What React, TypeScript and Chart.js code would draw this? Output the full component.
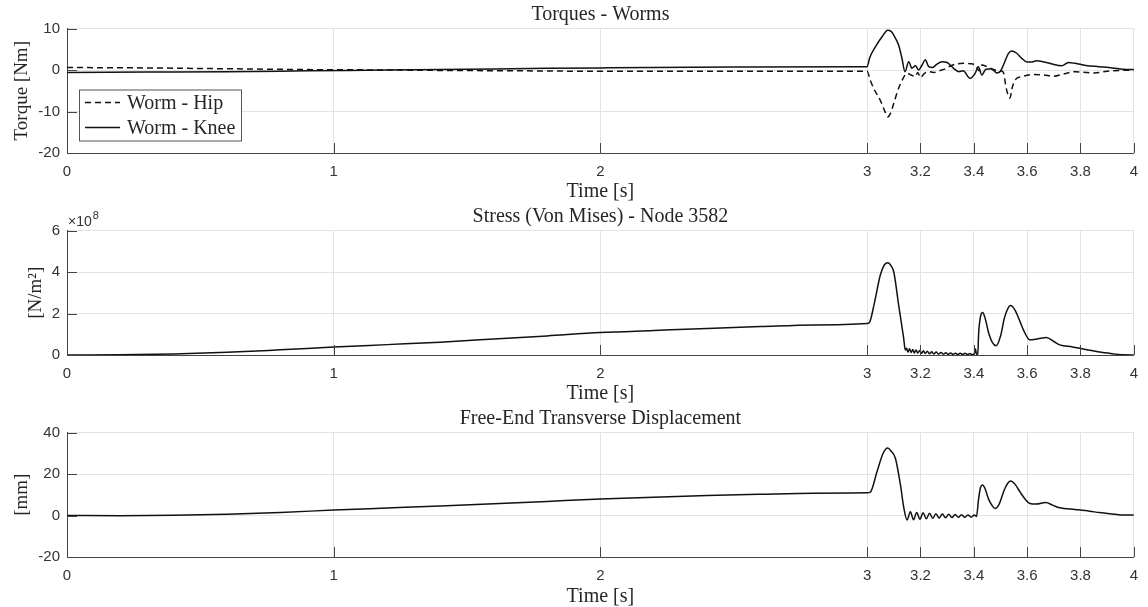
import React, { useEffect, useRef } from "react";
import { Chart, registerables } from "chart.js";

Chart.register(...registerables);

// ---------- data ----------
const xTickValues = [0, 1, 2, 3, 3.2, 3.4, 3.6, 3.8, 4];
const torqueTicks = [-20, -10, 0, 10];
const stressTicks = [0, 2, 4, 6];
const dispTicks = [-20, 0, 20, 40];

const hipTime = [0, 0.3, 0.6, 0.9, 1.2, 1.4, 1.7, 2.0, 2.5, 2.99, 3.0, 3.012, 3.026, 3.05, 3.068, 3.077, 3.088, 3.1, 3.118, 3.135, 3.15, 3.165, 3.18, 3.19, 3.2, 3.215, 3.23, 3.25, 3.27, 3.29, 3.31, 3.33, 3.36, 3.39, 3.41, 3.42, 3.43, 3.45, 3.47, 3.49, 3.51, 3.522, 3.535, 3.545, 3.555, 3.58, 3.62, 3.66, 3.7, 3.74, 3.78, 3.82, 3.85, 3.9, 3.95, 4.0];
const hipTorque = [0.6, 0.5, 0.3, 0.1, 0.0, -0.1, -0.2, -0.3, -0.3, -0.3, -0.3, -2.5, -4.6, -7.4, -10.2, -11.3, -10.4, -8.0, -4.4, -2.0, -0.8, -1.2, -1.6, -0.6, -1.8, -0.8, -0.4, -0.6, -0.2, 0.2, 0.9, 1.4, 1.6, 1.5, 0.9, -0.2, 1.2, 0.8, 0.2, -0.1, -0.5, -4.5, -6.8, -4.0, -2.4, -1.6, -1.1, -1.2, -1.5, -0.9, -0.4, -0.6, -0.7, -0.3, -0.1, 0.0];

const kneeTime = [0, 0.3, 0.6, 0.9, 1.2, 1.5, 1.8, 2.0, 2.5, 2.99, 3.0, 3.01, 3.031, 3.056, 3.077, 3.09, 3.1, 3.118, 3.13, 3.142, 3.156, 3.168, 3.181, 3.193, 3.206, 3.218, 3.231, 3.245, 3.262, 3.28, 3.3, 3.324, 3.343, 3.36, 3.386, 3.405, 3.417, 3.43, 3.445, 3.465, 3.486, 3.5, 3.515, 3.53, 3.542, 3.56, 3.58, 3.6, 3.615, 3.635, 3.66, 3.69, 3.73, 3.755, 3.78, 3.82, 3.87, 3.92, 3.96, 4.0];
const kneeTorque = [-0.6, -0.5, -0.4, -0.2, 0.0, 0.2, 0.4, 0.5, 0.7, 0.8, 0.8, 3.0, 5.6, 8.0, 9.6, 9.3, 8.4, 6.0, 3.0, -0.4, 2.0, 0.4, 1.0, 0.0, 1.2, 2.5, 0.8, 0.6, 1.4, 2.0, 1.8, 0.4, -0.4, -0.2, -2.0, -0.8, 0.8, -1.2, 0.2, 0.3, -0.7, -0.3, 1.8, 4.0, 4.6, 4.1, 2.8, 1.9, 1.9, 2.2, 2.0, 1.5, 1.0, 1.8, 1.6, 1.1, 0.8, 0.5, 0.2, 0.1];

const stressTime = [0, 0.2, 0.4, 0.6, 0.8, 1.0, 1.2, 1.4, 1.6, 1.8, 2.0, 2.2, 2.4, 2.6, 2.8, 3.0, 3.01, 3.026, 3.05, 3.065, 3.078, 3.09, 3.1, 3.118, 3.137, 3.143, 3.148, 3.153, 3.159, 3.165, 3.171, 3.177, 3.183, 3.19, 3.197, 3.204, 3.211, 3.218, 3.226, 3.234, 3.242, 3.25, 3.259, 3.268, 3.277, 3.286, 3.295, 3.304, 3.313, 3.322, 3.331, 3.34, 3.349, 3.358, 3.367, 3.376, 3.385, 3.394, 3.402, 3.406, 3.41, 3.415, 3.418, 3.425, 3.433, 3.442, 3.455, 3.47, 3.484, 3.5, 3.515, 3.53, 3.538, 3.555, 3.573, 3.59, 3.61, 3.641, 3.672, 3.7, 3.722, 3.77, 3.809, 3.86, 3.909, 3.959, 4.0];
// von Mises stress in units of 1e8 N/m^2
const stressE8 = [0, 0.01, 0.05, 0.13, 0.25, 0.38, 0.5, 0.62, 0.77, 0.92, 1.08, 1.18, 1.28, 1.37, 1.45, 1.52, 1.6, 2.43, 3.88, 4.35, 4.45, 4.3, 4.0, 2.43, 0.81, 0.24, 0.32, 0.14, 0.3, 0.12, 0.26, 0.1, 0.24, 0.09, 0.22, 0.08, 0.2, 0.07, 0.18, 0.06, 0.16, 0.05, 0.14, 0.04, 0.12, 0.04, 0.11, 0.03, 0.1, 0.03, 0.09, 0.02, 0.08, 0.02, 0.08, 0.02, 0.07, 0.02, 0.06, 0.3, 0.04, 0.05, 1.0, 1.85, 2.05, 1.8, 1.1, 0.6, 0.45, 0.9, 1.8, 2.3, 2.38, 2.15, 1.62, 1.1, 0.73, 0.78, 0.84, 0.65, 0.49, 0.39, 0.29, 0.17, 0.08, 0.01, 0.0];

const dispTime = [0, 0.2, 0.4, 0.6, 0.8, 1.0, 1.2, 1.4, 1.6, 1.8, 2.0, 2.2, 2.4, 2.6, 2.8, 3.0, 3.012, 3.037, 3.06, 3.077, 3.09, 3.106, 3.125, 3.138, 3.15, 3.162, 3.174, 3.186, 3.198, 3.21, 3.222, 3.234, 3.246, 3.258, 3.27, 3.282, 3.294, 3.306, 3.318, 3.33, 3.342, 3.354, 3.366, 3.378, 3.39, 3.402, 3.41, 3.418, 3.425, 3.433, 3.442, 3.455, 3.47, 3.48, 3.495, 3.515, 3.53, 3.538, 3.555, 3.575, 3.595, 3.61, 3.634, 3.67, 3.695, 3.722, 3.78, 3.834, 3.87, 3.909, 3.95, 4.0];
const dispMm = [0, -0.1, 0.1, 0.6, 1.5, 2.6, 3.6, 4.6, 5.7, 6.8, 7.9, 8.8, 9.6, 10.2, 10.7, 11.0, 11.3, 21.1, 30.0, 32.5, 31.0, 27.6, 14.7, 3.4, -2.2, 1.8, -2.0, 1.5, -1.8, 1.3, -1.6, 1.1, -1.4, 0.9, -1.2, 0.7, -1.1, 0.6, -1.0, 0.5, -0.9, 0.4, -0.9, 0.3, -0.8, 0.3, -0.5, 8.0, 13.5, 14.7, 13.0, 8.0, 4.5, 3.4, 5.5, 12.5, 16.0, 16.6, 15.0, 11.0, 7.5, 5.8, 5.5, 6.3, 5.0, 3.7, 2.9, 2.1, 1.4, 0.8, 0.3, 0.2];

// ---------- styles ----------
const SERIF = '"Liberation Serif", "Times New Roman", serif';
const SANS = '"Liberation Sans", Arial, sans-serif';
const TEXT = "#262626";
const TICK_TEXT = "#333333";
const AXIS = "#444444";
const GRID = "#e3e3e3";
const LINE = "#111111";

function pts(t: number[], v: number[]) {
  const n = Math.min(t.length, v.length);
  const out: { x: number; y: number }[] = [];
  for (let i = 0; i < n; i++) out.push({ x: t[i], y: v[i] });
  return out;
}

const inwardTicks = {
  id: "inwardTicks",
  afterDraw(chart: any) {
    const { ctx, chartArea, scales } = chart;
    const { left, bottom } = chartArea;
    ctx.save();
    ctx.strokeStyle = AXIS;
    ctx.lineWidth = 1;
    ctx.beginPath();
    for (const t of scales.x.ticks) {
      const px = Math.round(scales.x.getPixelForValue(t.value)) + 0.5;
      ctx.moveTo(px, bottom);
      ctx.lineTo(px, bottom - 10);
    }
    for (const t of scales.y.ticks) {
      const py = Math.round(scales.y.getPixelForValue(t.value)) + 0.5;
      ctx.moveTo(left, py);
      ctx.lineTo(left + 10, py);
    }
    ctx.stroke();
    ctx.restore();
  },
};

const boxLegend = {
  id: "boxLegend",
  afterDraw(chart: any) {
    const { ctx, chartArea } = chart;
    const x = chartArea.left + 12;
    const y = chartArea.top + 61;
    const w = 162;
    const h = 51;
    ctx.save();
    ctx.fillStyle = "#ffffff";
    ctx.fillRect(x, y, w, h);
    ctx.strokeStyle = "#555555";
    ctx.lineWidth = 1;
    ctx.strokeRect(x + 0.5, y + 0.5, w, h);
    ctx.font = `20px ${SERIF}`;
    ctx.textBaseline = "middle";
    ctx.fillStyle = TEXT;
    chart.data.datasets.forEach((ds: any, i: number) => {
      const cy = y + 13 + i * 25;
      ctx.beginPath();
      ctx.setLineDash(ds.borderDash || []);
      ctx.strokeStyle = ds.borderColor;
      ctx.lineWidth = ds.borderWidth;
      ctx.moveTo(x + 6, cy);
      ctx.lineTo(x + 41, cy);
      ctx.stroke();
      ctx.setLineDash([]);
      ctx.fillText(ds.label, x + 48, cy + 1);
    });
    ctx.restore();
  },
};

const exponentLabel = {
  id: "exponentLabel",
  afterDraw(chart: any) {
    const { ctx, chartArea } = chart;
    ctx.save();
    ctx.fillStyle = TICK_TEXT;
    ctx.textBaseline = "alphabetic";
    ctx.font = `14px ${SANS}`;
    const x = chartArea.left + 1;
    const y = chartArea.top - 5;
    const base = "\u00d710";
    ctx.fillText(base, x, y);
    const w = ctx.measureText(base).width;
    ctx.font = `11px ${SANS}`;
    ctx.fillText("8", x + w + 1, y - 7);
    ctx.restore();
  },
};

function makeConfig(opts: {
  title: string;
  yTitle: string;
  yTitlePad: number;
  yMin: number;
  yMax: number;
  yTicks: number[];
  xAxisH: number;
  datasets: any[];
  plugins: any[];
}) {
  return {
    type: "line" as const,
    data: { datasets: opts.datasets },
    plugins: [inwardTicks, ...opts.plugins],
    options: {
      responsive: false,
      animation: false as const,
      events: [],
      layout: { padding: { left: 0, right: 10, top: 0, bottom: 0 } },
      plugins: {
        legend: { display: false },
        tooltip: { enabled: false },
        title: {
          display: true,
          fullSize: false,
          text: opts.title,
          color: TEXT,
          font: { family: SERIF, size: 20, weight: "normal" as const, lineHeight: 1.2 },
          padding: { top: 2.5, bottom: 2 },
        },
      },
      scales: {
        x: {
          type: "linear" as const,
          min: 0,
          max: 4,
          afterBuildTicks: (s: any) => {
            s.ticks = xTickValues.map((v) => ({ value: v }));
          },
          afterFit: (s: any) => {
            s.height = opts.xAxisH;
          },
          grid: { color: GRID, drawTicks: false, lineWidth: 1 },
          border: { display: true, color: AXIS, width: 1 },
          ticks: {
            autoSkip: false,
            maxRotation: 0,
            padding: 10,
            color: TICK_TEXT,
            font: { family: SANS, size: 15 },
            callback: (v: any) => String(v),
          },
          title: {
            display: true,
            text: "Time [s]",
            color: TEXT,
            font: { family: SERIF, size: 20, lineHeight: 1 },
            padding: { top: 0, bottom: 0 },
          },
        },
        y: {
          type: "linear" as const,
          min: opts.yMin,
          max: opts.yMax,
          afterBuildTicks: (s: any) => {
            s.ticks = opts.yTicks.map((v) => ({ value: v }));
          },
          afterFit: (s: any) => {
            s.width = 67;
          },
          grid: { color: GRID, drawTicks: false, lineWidth: 1 },
          border: { display: true, color: AXIS, width: 1 },
          ticks: {
            padding: 7,
            color: TICK_TEXT,
            font: { family: SANS, size: 15 },
            callback: (v: any) => String(v),
          },
          title: {
            display: true,
            text: opts.yTitle,
            color: TEXT,
            font: { family: SERIF, size: 19 },
            padding: { top: opts.yTitlePad, bottom: 0 },
          },
        },
      },
    },
  };
}

function lineDs(label: string, t: number[], v: number[], dash?: number[]) {
  return {
    label,
    data: pts(t, v),
    borderColor: LINE,
    borderWidth: 1.5,
    borderDash: dash || [],
    pointRadius: 0,
    cubicInterpolationMode: "monotone" as const,
    fill: false,
  };
}

function Panel({ top, height, config }: { top: number; height: number; config: () => any }) {
  const ref = useRef<HTMLCanvasElement | null>(null);
  useEffect(() => {
    if (!ref.current) return;
    const chart = new Chart(ref.current, config());
    return () => chart.destroy();
  }, []);
  return (
    <canvas
      ref={ref}
      width={1148}
      height={height}
      style={{ position: "absolute", left: 0, top, width: 1148, height, display: "block" }}
    />
  );
}

export default function App() {
  return (
    <div style={{ position: "absolute", left: 0, top: 0, width: 1148, height: 607, background: "#fff", overflow: "hidden" }}>
      <Panel
        top={0}
        height={202}
        config={() =>
          makeConfig({
            title: "Torques - Worms",
            yTitle: "Torque [Nm]",
            yTitlePad: 11,
            yMin: -20,
            yMax: 10,
            yTicks: torqueTicks,
            xAxisH: 49,
            datasets: [
              lineDs("Worm - Hip", hipTime, hipTorque, [6, 4]),
              lineDs("Worm - Knee", kneeTime, kneeTorque),
            ],
            plugins: [boxLegend],
          })
        }
      />
      <Panel
        top={202}
        height={202}
        config={() =>
          makeConfig({
            title: "Stress (Von Mises) - Node 3582",
            yTitle: "[N/m\u00b2]",
            yTitlePad: 25,
            yMin: 0,
            yMax: 6,
            yTicks: stressTicks,
            xAxisH: 49,
            datasets: [lineDs("Stress", stressTime, stressE8)],
            plugins: [exponentLabel],
          })
        }
      />
      <Panel
        top={404}
        height={203}
        config={() =>
          makeConfig({
            title: "Free-End Transverse Displacement",
            yTitle: "[mm]",
            yTitlePad: 11,
            yMin: -20,
            yMax: 40,
            yTicks: dispTicks,
            xAxisH: 50,
            datasets: [lineDs("Displacement", dispTime, dispMm)],
            plugins: [],
          })
        }
      />
    </div>
  );
}
